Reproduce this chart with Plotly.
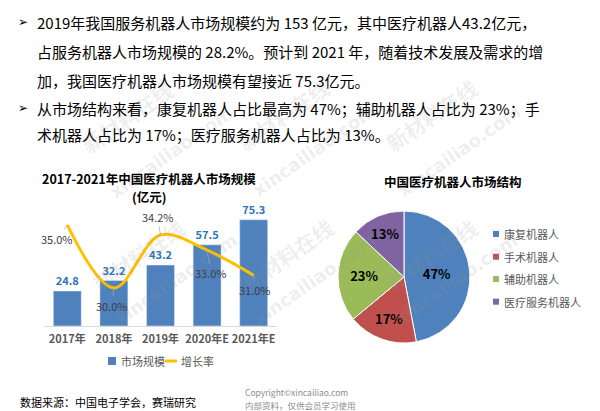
import plotly.graph_objects as go

W, H = 600, 411
FONT = "Noto Sans CJK SC, DejaVu Sans, sans-serif"

# ---------------- data ----------------
years = ["2017年", "2018年", "2019年", "2020年E", "2021年E"]
market_size = [24.8, 32.2, 43.2, 57.5, 75.3]
growth_rate = [35.0, 30.0, 34.2, 33.0, 31.0]

pie_labels = ["康复机器人", "手术机器人", "辅助机器人", "医疗服务机器人"]
pie_values = [47, 17, 23, 13]
pie_colors = ["#4F81BD", "#C0504D", "#9BBB59", "#8064A2"]

bar_title = ["2017-2021年中国医疗机器人市场规模", "(亿元)"]
pie_title = "中国医疗机器人市场结构"
legend_names = ["市场规模", "增长率"]

text_lines = [
    "2019年我国服务机器人市场规模约为 153 亿元，其中医疗机器人43.2亿元，",
    "占服务机器人市场规模的 28.2%。预计到 2021 年，随着技术发展及需求的增",
    "加，我国医疗机器人市场规模有望接近 75.3亿元。",
    "从市场结构来看，康复机器人占比最高为 47%；辅助机器人占比为 23%；手",
    "术机器人占比为 17%；医疗服务机器人占比为 13%。",
]
bullet_lines = [0, 3]
source_text = "数据来源：中国电子学会，赛瑞研究"
copyright_lines = ["Copyright©xincailiao.com", "内部资料，仅供会员学习使用"]
watermarks = ["新材料在线", "xincailiao.com"]

# ---------------- helpers ----------------
def px(x):
    return x / W

def py(y):
    return 1 - y / H

BAR_BLUE = "#4F81BD"
GOLD = "#FFC000"

fig = go.Figure()

fig.add_trace(go.Bar(
    x=years, y=market_size, marker_color=BAR_BLUE, width=0.6,
    texttemplate="<b>%{y}</b>", textposition="outside",
    textfont=dict(size=11, color="#2E75B6", family=FONT),
    cliponaxis=False, hoverinfo="skip", name=legend_names[0],
))
fig.add_trace(go.Scatter(
    x=years, y=growth_rate, yaxis="y2", mode="lines",
    line=dict(color=GOLD, width=3, shape="spline", smoothing=1.0),
    hoverinfo="skip", name=legend_names[1],
))

fig.add_trace(go.Pie(
    labels=pie_labels, values=pie_values, sort=False, direction="clockwise",
    rotation=0, marker=dict(colors=pie_colors, line=dict(color="white", width=1)),
    texttemplate="<b>%{value}%</b>", textposition="inside",
    insidetextorientation="horizontal",
    textfont=dict(size=13, color="black", family=FONT),
    domain=dict(x=[px(338), px(470)], y=[py(343), py(211)]),
    showlegend=False, hoverinfo="skip",
))

ann = []
shapes = []

# faint watermarks (drawn first, underneath other annotations)
wm_pos = [((73, 72), (103, 100)), ((283, 70), (314, 98)), ((486, 70), (528, 98)),
          ((84, 300), (107, 332)), ((287, 300), (314, 332)), ((486, 300), (524, 332))]
for (a, b) in wm_pos:
    ann.append(dict(x=px(a[0]), y=py(a[1]), xref="paper", yref="paper", text="<b>%s</b>" % watermarks[0],
                    showarrow=False, textangle=-35,
                    font=dict(size=21, color="rgba(150,150,150,0.16)", family=FONT)))
    ann.append(dict(x=px(b[0]), y=py(b[1]), xref="paper", yref="paper", text="<b>%s</b>" % watermarks[1],
                    showarrow=False, textangle=-35,
                    font=dict(size=18, color="rgba(150,150,150,0.16)", family="DejaVu Sans")))

# top bullet text
line_y = [22.5, 51.5, 80, 108, 135]
for i, t in enumerate(text_lines):
    ann.append(dict(x=px(35), y=py(line_y[i]), xref="paper", yref="paper",
                    text=t, showarrow=False, xanchor="left", yanchor="middle",
                    font=dict(size=15, color="#000000", family=FONT)))
for i in bullet_lines:
    ann.append(dict(x=px(23), y=py(line_y[i]), xref="paper", yref="paper",
                    text="➢", showarrow=False, xanchor="center", yanchor="middle",
                    font=dict(size=12, color="#000000", family="DejaVu Sans")))

# titles
for t, yy in zip(bar_title, [178, 196.5]):
    ann.append(dict(x=px(149), y=py(yy), xref="paper", yref="paper", text="<b>%s</b>" % t,
                    showarrow=False, xanchor="center", yanchor="middle",
                    font=dict(size=12.5, color="#000000", family=FONT)))
ann.append(dict(x=px(453), y=py(181), xref="paper", yref="paper", text="<b>%s</b>" % pie_title,
                showarrow=False, xanchor="center", yanchor="middle",
                font=dict(size=12.5, color="#000000", family=FONT)))

# growth labels with leader lines
offsets = [(-10, 14), (-2, 18), (-3, -18), (4, 23), (1, 15)]
for i, (yr, g) in enumerate(zip(years, growth_rate)):
    ax, ay = offsets[i]
    ann.append(dict(x=yr, y=g, xref="x", yref="y2", text="%.1f%%" % g,
                    showarrow=True, arrowhead=0, arrowwidth=0.7, arrowcolor="#A6A6A6",
                    ax=ax, ay=ay, standoff=0,
                    font=dict(size=11, color="#404040", family=FONT)))

# bar chart legend (manual)
shapes.append(dict(type="rect", xref="paper", yref="paper",
                   x0=px(108), x1=px(116), y0=py(365), y1=py(357),
                   fillcolor=BAR_BLUE, line=dict(width=0)))
ann.append(dict(x=px(119), y=py(361), xref="paper", yref="paper", text=legend_names[0],
                showarrow=False, xanchor="left", yanchor="middle",
                font=dict(size=11, color="#595959", family=FONT)))
shapes.append(dict(type="line", xref="paper", yref="paper",
                   x0=px(165), x1=px(177), y0=py(361), y1=py(361),
                   line=dict(color=GOLD, width=3)))
ann.append(dict(x=px(179), y=py(361), xref="paper", yref="paper", text=legend_names[1],
                showarrow=False, xanchor="left", yanchor="middle",
                font=dict(size=11, color="#595959", family=FONT)))

# pie legend (manual)
leg_y = [234, 256.7, 279, 301.7]
for lab, col, yy in zip(pie_labels, pie_colors, leg_y):
    shapes.append(dict(type="rect", xref="paper", yref="paper",
                       x0=px(493), x1=px(499), y0=py(yy + 3), y1=py(yy - 3),
                       fillcolor=col, line=dict(width=0)))
    ann.append(dict(x=px(502), y=py(yy), xref="paper", yref="paper", text=lab,
                    showarrow=False, xanchor="left", yanchor="middle",
                    font=dict(size=11, color="#595959", family=FONT)))

# source and copyright
ann.append(dict(x=px(18), y=py(402), xref="paper", yref="paper", text=source_text,
                showarrow=False, xanchor="left", yanchor="middle",
                font=dict(size=11, color="#000000", family=FONT)))
for t, yy in zip(copyright_lines, [392, 404.5]):
    ann.append(dict(x=px(243), y=py(yy), xref="paper", yref="paper", text=t,
                    showarrow=False, xanchor="left", yanchor="middle",
                    font=dict(size=8.5, color="#8C8C8C", family=FONT)))

fig.update_layout(
    width=W, height=H, margin=dict(l=0, r=0, t=0, b=0),
    paper_bgcolor="white", plot_bgcolor="white", showlegend=False,
    font=dict(family=FONT),
    xaxis=dict(domain=[px(44), px(277)], range=[-0.5, 4.5], type="category",
               showline=True, linecolor="#D9D9D9", linewidth=1, ticks="",
               tickangle=0, ticklabelstandoff=3,
               tickfont=dict(size=11, color="#595959", family=FONT),
               showgrid=False, zeroline=False, tickprefix="<b>", ticksuffix="</b>"),
    yaxis=dict(domain=[py(326), py(199)], range=[0, 90], visible=False),
    yaxis2=dict(domain=[py(326), py(199)], range=[26.98, 37.06], overlaying="y",
                visible=False),
    annotations=ann, shapes=shapes, bargap=0.4,
)

fig.write_html("out.html", config={"displayModeBar": False},
               post_script="document.body.style.margin='0';document.body.style.padding='0';")
